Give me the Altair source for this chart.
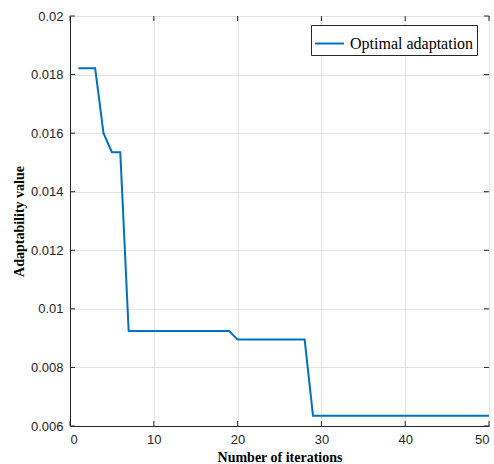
import altair as alt
import pandas as pd

iterations = list(range(1, 51))
fitness = [0.01822, 0.01822, 0.01822, 0.01600, 0.01535, 0.01535,
           0.00924, 0.00924, 0.00924, 0.00924, 0.00924, 0.00924, 0.00924,
           0.00924, 0.00924, 0.00924, 0.00924, 0.00924, 0.00924,
           0.00895, 0.00895, 0.00895, 0.00895, 0.00895, 0.00895, 0.00895,
           0.00895, 0.00895,
           0.00635, 0.00635, 0.00635, 0.00635, 0.00635, 0.00635, 0.00635,
           0.00635, 0.00635, 0.00635, 0.00635, 0.00635, 0.00635, 0.00635,
           0.00635, 0.00635, 0.00635, 0.00635, 0.00635, 0.00635, 0.00635,
           0.00635]
series_name = "Optimal adaptation"
x_ticks = [0, 10, 20, 30, 40, 50]
y_ticks = [0.006, 0.008, 0.010, 0.012, 0.014, 0.016, 0.018, 0.020]

W, H = 419, 410
TL = 5

df = pd.DataFrame({"iter": iterations, "val": fitness, "series": [series_name] * len(iterations)})
xt = pd.DataFrame({"t": x_ticks})
yt = pd.DataFrame({"t": y_ticks})

xscale = alt.Scale(domain=[0, 50], nice=False)
yscale = alt.Scale(domain=[0.006, 0.02], nice=False)

line = alt.Chart(df).mark_line(strokeWidth=2).encode(
    x=alt.X("iter:Q", scale=xscale,
            axis=alt.Axis(values=x_ticks, title="Number of iterations", ticks=False,
                          labelPadding=7, titlePadding=4)),
    y=alt.Y("val:Q", scale=yscale,
            axis=alt.Axis(values=y_ticks, title="Adaptability value", format="~f",
                          ticks=False, labelPadding=7, titlePadding=4)),
    color=alt.Color("series:N", scale=alt.Scale(range=["#0072BD"]),
                    legend=alt.Legend(title=None, orient="none", legendX=241, legendY=9,
                                      symbolType="stroke", symbolSize=841,
                                      symbolStrokeWidth=2, strokeColor="#262626",
                                      fillColor="white", padding=3, cornerRadius=0,
                                      labelFont="Liberation Serif", labelFontSize=16,
                                      labelColor="black", labelOffset=5, symbolOffset=0)),
)

tick_style = dict(color="#262626", strokeWidth=1)
bottom = alt.Chart(xt).mark_rule(**tick_style).encode(
    x=alt.X("t:Q", scale=xscale), y=alt.value(H), y2=alt.value(H - TL))
top = alt.Chart(xt).mark_rule(**tick_style).encode(
    x=alt.X("t:Q", scale=xscale), y=alt.value(0), y2=alt.value(TL))
left = alt.Chart(yt).mark_rule(**tick_style).encode(
    y=alt.Y("t:Q", scale=yscale), x=alt.value(0), x2=alt.value(TL))
right = alt.Chart(yt).mark_rule(**tick_style).encode(
    y=alt.Y("t:Q", scale=yscale), x=alt.value(W), x2=alt.value(W - TL))

chart = alt.layer(line, bottom, top, left, right).properties(
    width=W, height=H,
    autosize=alt.AutoSizeParams(type="none"),
    padding={"left": 70, "top": 16, "right": 5, "bottom": 38},
    background="white",
).configure_view(
    stroke="#262626", strokeWidth=1
).configure_axis(
    domainColor="#262626", domainWidth=1,
    gridColor="#e3e3e3", gridWidth=1,
    labelFont="Liberation Sans", labelFontSize=13, labelColor="#262626",
    titleFont="Liberation Serif", titleFontSize=14, titleFontWeight="bold", titleColor="black",
)

chart.save("out.html", embed_options={"renderer": "svg", "actions": False})
